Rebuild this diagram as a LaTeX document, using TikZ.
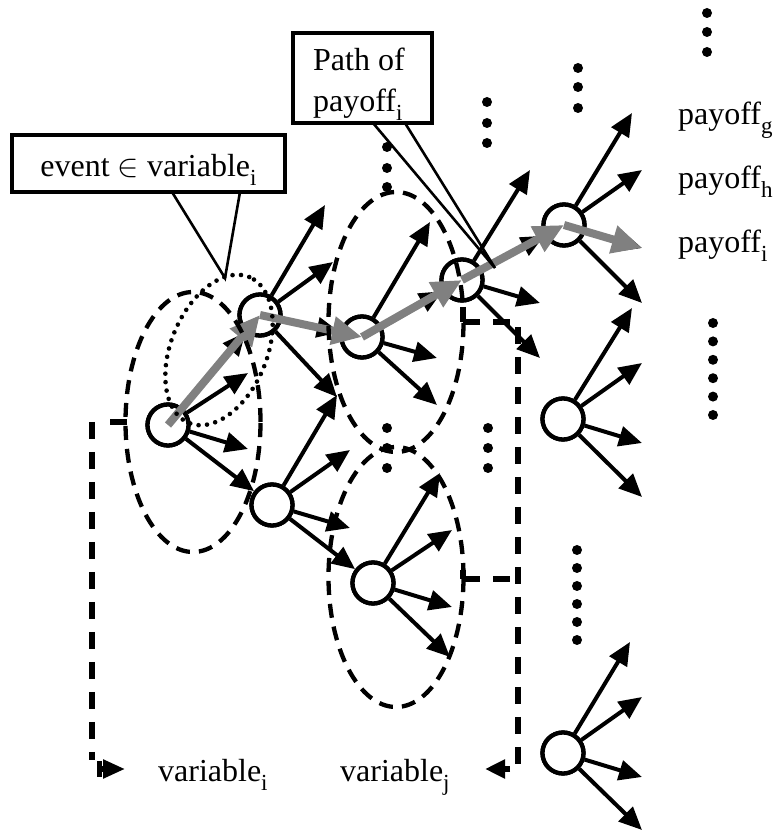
\RequirePackage{fix-cm}
\documentclass[tikz,border=0pt]{standalone}
\usepackage{fontspec}
\setmainfont{Liberation Serif}
\usetikzlibrary{arrows.meta,calc}
\definecolor{pathgray}{gray}{0.5}
\newcommand\idx[1]{\raisebox{-8.5pt}{\fontsize{23}{23}\selectfont #1}}
\tikzset{
  state/.style={circle,draw,line width=4.3pt,fill=white,minimum size=41pt,inner sep=0pt},
  fan/.style={line width=4pt,-{Triangle[length=23pt,width=20pt]}},
  payoffpath/.style={draw=pathgray,line width=8pt,-{Triangle[length=30pt,width=27pt]}},
  group/.style={dash pattern=on 14pt off 9pt,line width=4.3pt},
  eventset/.style={dash pattern=on 0pt off 8.5pt,line cap=round,line width=4.6pt},
  bracket/.style={dash pattern=on 17pt off 13pt,line width=5.2pt},
  callout/.style={draw,fill=white,line width=3.2pt,inner sep=3pt,outer sep=0pt},
  pointer/.style={line width=2.6pt},
  lbl/.style={anchor=base west,inner sep=0pt}
}
\begin{document}
\begin{tikzpicture}[x=1pt,y=1pt,font=\fontsize{32}{40}\selectfont]
\useasboundingbox (0,0) rectangle (775,831);
% dots
\foreach \x/\y in {707/818,707/799,707/779,578/763,578/744,578/723,487/729,487/708,487/688,387/684,387/663,387/644,387/403,387/383,387/363,488/403,488/383,488/363}
  \fill (\x,\y) circle (5);
\foreach \k in {0,...,5} {\fill (713,508-18.4*\k) circle (5); \fill (577,281-18*\k) circle (5);}
% tree
\node[state] (A) at (168,406) {};
\node[state] (B) at (260,516) {};
\node[state] (C) at (272,326) {};
\node[state] (D) at (362,494) {};
\node[state] (E) at (373,248) {};
\node[state] (F) at (462,551) {};
\node[state] (G) at (564,606) {};
\node[state] (H) at (563,412) {};
\node[state] (I) at (563,78) {};
\foreach \a/\b in {A/B,A/C,B/D,C/E,D/F,F/G} \draw[fan] (\a) -- (\b);
\foreach \n/\dx/\dy in {A/80/52,A/80/-24,B/65/110,B/73/53,B/77/-82,C/65/110,C/78/55,C/78/-23,D/68/115,D/75/-21,D/75/-68,E/67/110,E/79/53,E/79/-24,E/77/-74,F/68/110,F/78/-23,F/78/-78,G/68/112,G/78/55,G/78/-23,G/78/-78,H/69/111,H/79/56,H/79/-24,H/79/-78,I/67/111,I/79/56,I/79/-24,I/79/-77}
  \draw[fan] (\n) -- ++(\dx,\dy);
\foreach \n in {A,B,C,D,E,F,G,H,I} \node[state] at (\n) {};
% path of payoff i
\foreach \a/\b in {A/B,B/D,D/F,F/G} \draw[payoffpath] (\a.center) -- (\b.center);
\draw[payoffpath] (G.center) -- ++(78,-23);
% variables
\draw[group] (193,409) ellipse [x radius=67.5, y radius=130];
\draw[group] (396,509) ellipse [x radius=67.5, y radius=130];
\draw[group] (396,254) ellipse [x radius=67.5, y radius=130];
\draw[eventset,rotate around={67.5:(219,481)}] (219,481) ellipse [x radius=79, y radius=48];
\draw[bracket,{Bar[width=16pt]}-{Triangle[length=22pt,width=18pt]}] (127,409) -- (105,409) (92,409) -- (92,71) (97,62) -- (125,62);
\draw[bracket,-{Triangle[length=20pt,width=18pt]}] (463,524) -- (463,509) (463,509) -- (518,509) -- (518,62) -- (485,62);
\draw[bracket] (463,261) -- (463,252) (463,252) -- (518,252);
\node[lbl] (vari) at (158,49) {variable\idx{i}};
\node[lbl] (varj) at (340,49) {variable\idx{j}};
% payoffs
\node[lbl] (payg) at (678,706) {payoff\idx{g}};
\node[lbl] (payh) at (678,642) {payoff\idx{h}};
\node[lbl] (payi) at (678,578) {payoff\idx{i}};
% callouts
\node[callout,minimum width=273pt,minimum height=57pt,text height=35pt,text depth=8pt] (eventbox) at (148.5,667.5) {event $\in$ variable\idx{i}};
\coordinate (eventtip) at (225,553);
\draw[pointer] ($(eventbox.south west)+(160,0)$) -- (eventtip) -- ($(eventbox.south west)+(228,0)$);
\node[callout,minimum width=139pt,minimum height=90pt] (pathbox) at (362.5,753) {};
\node[lbl] (pathof) at (313,760) {Path of};
\node[lbl] (pathpay) at (313,719) {payoff\idx{i}};
\coordinate (pathtip) at (495,563);
\draw[pointer] ($(pathbox.south west)+(80,0)$) -- (pathtip) -- ($(pathbox.south west)+(112,0)$);
\end{tikzpicture}
\end{document}
